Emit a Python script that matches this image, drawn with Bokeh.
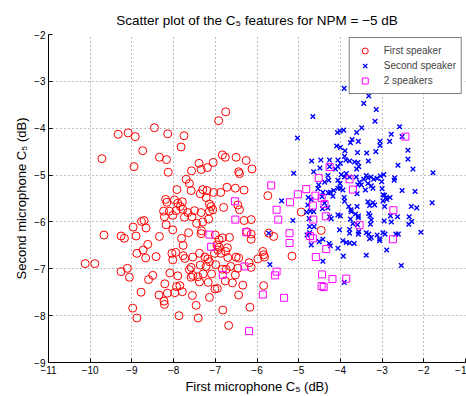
from bokeh.plotting import figure
from bokeh.models import Range1d, FixedTicker
from bokeh.embed import file_html
from bokeh.resources import INLINE

# ---------------- data ----------------
first_speaker_x = [
    -7.82, -8.74, -8.95, -8.34, -8.17, -8.13, -7.39, -7.34, -7.19, -7.05, -6.83, -6.76, -6.50, -6.26, -6.12, -6.44, -6.42, -7.57,
    -7.70, -7.62, -7.58, -7.92, -7.30, -7.20, -7.36, -7.22, -7.04, -6.87, -6.72, -6.52, -6.31, -7.14, -7.10, -6.80, -8.19, -8.16,
    -7.98, -7.90, -7.79, -7.84, -7.78, -7.94, -8.24, -8.10, -8.22, -8.02, -7.66, -7.50, -7.34, -7.56, -7.74, -7.06, -7.14, -7.16,
    -6.46, -6.42, -5.74, -6.31, -6.14,
    -8.18, -8.02, -8.71, -8.77, -8.66, -8.97, -8.90, -9.18, -9.26, -8.34, -7.45, -7.30, -7.33, -7.34, -7.64, -7.81, -7.77, -7.95,
    -7.77, -7.73, -8.04, -8.02, -7.54, -7.38, -7.25, -7.18, -7.14, -7.36, -7.00, -6.91, -6.83, -6.66, -6.96, -6.91, -6.94, -6.71,
    -6.75, -6.87, -6.70, -6.50, -7.02, -6.44, -5.98, -5.84, -5.86, -5.82, -6.19, -8.62, -8.73, -8.88, -8.67, -8.42, -9.11, -6.14,
    -6.14, -6.24,
    -7.58, -7.62, -7.54, -7.58, -7.42, -7.29, -7.22, -7.09, -6.99, -6.83, -6.74, -6.63, -6.46, -6.14, -9.06, -8.60, -8.50, -8.09,
    -7.90, -7.85, -7.93, -8.21, -8.15, -8.35, -8.23, -8.22, -7.97, -7.79, -7.55, -7.46, -7.38, -7.17, -7.01, -6.95, -7.14, -6.76,
    -6.59, -6.34, -6.52, -6.44, -6.17, -6.82, -8.98, -8.78, -7.87, -7.41, -5.84,
    -10.12, -9.89, -9.67, -9.26, -9.72, -9.33, -9.09, -8.92, -8.46, -8.14, -7.75, -6.75, -6.92, -8.88, -6.68, -4.94, -4.46, -5.16,
    -5.72, -5.60,
]
first_speaker_y = [
    -4.40, -4.48, -4.82, -4.62, -4.67, -4.94, -4.75, -4.88, -4.84, -4.73, -4.57, -4.62, -4.62, -4.69, -4.87, -4.93, -4.97, -4.91,
    -5.09, -5.18, -5.33, -5.31, -5.31, -5.33, -5.40, -5.48, -5.37, -5.37, -5.26, -5.28, -5.32, -5.62, -5.67, -5.69, -5.52, -5.58,
    -5.53, -5.60, -5.57, -5.67, -5.73, -5.76, -5.77, -5.77, -5.89, -5.86, -5.80, -5.76, -5.80, -5.89, -5.90, -5.74, -5.77, -5.94,
    -5.64, -5.74, -5.44, -5.97, -5.95,
    -6.06, -6.17, -5.97, -5.99, -6.13, -6.11, -6.30, -6.35, -6.30, -6.31, -6.03, -6.00, -6.19, -6.25, -6.23, -6.35, -6.50, -6.65,
    -6.72, -6.78, -6.67, -6.81, -6.75, -6.67, -6.75, -6.79, -6.85, -6.92, -6.28, -6.38, -6.34, -6.33, -6.49, -6.54, -6.60, -6.55,
    -6.63, -6.67, -6.76, -6.75, -6.67, -6.77, -6.79, -6.70, -6.63, -6.75, -6.87, -6.48, -6.60, -6.67, -6.77, -6.74, -6.99, -6.26,
    -6.37, -6.21,
    -6.97, -7.02, -7.14, -7.18, -7.17, -7.11, -6.95, -7.11, -6.91, -7.01, -7.01, -6.95, -6.99, -6.97, -7.18, -7.23, -7.14, -7.09,
    -7.15, -7.36, -7.38, -7.32, -7.52, -7.56, -7.69, -7.76, -7.51, -7.49, -7.57, -7.78, -7.28, -7.29, -7.43, -7.42, -7.61, -7.26,
    -7.30, -7.35, -7.13, -7.56, -7.82, -7.88, -7.84, -7.50, -8.00, -8.05, -7.36,
    -6.89, -6.89, -6.28, -7.06, -4.65, -4.13, -4.10, -4.18, -3.99, -4.12, -4.16, -3.65, -3.84, -8.05, -8.21, -5.79, -6.18, -6.73,
    -6.24, -6.31,
]

second_speaker_x = [
    -3.91, -3.32, -3.44, -3.14, -3.17, -4.66, -2.58, -3.49, -5.03, -4.07, -4.01, -3.92, -3.61, -3.72, -3.76, -3.57, -4.09, -4.00,
    -3.89, -3.05, -3.05, -3.15, -2.78, -2.82, -2.52, -2.38, -2.38, -2.26, -1.78, -2.62, -3.59, -3.37, -3.33, -3.58, -3.66, -3.56,
    -3.61, -3.78, -3.90, -3.87, -4.06, -4.00, -4.06, -4.12, -4.26, -4.26, -4.47, -4.49, -4.69, -4.64, -4.30, -4.28, -4.38, -4.52,
    -4.54, -4.06, -4.01, -3.98, -3.90, -3.86, -3.78, -3.62, -3.38, -3.34, -3.27, -3.20, -3.12, -3.04, -2.96, -3.54, -3.58, -3.44,
    -3.50, -3.34, -3.26, -3.22, -3.40, -3.60, -3.01, -3.00, -2.94, -2.81, -2.89, -2.71, -2.70, -2.52, -2.21, -1.80, -5.12, -5.41,
    -5.14, -4.77, -4.70, -4.78, -4.72, -4.64, -4.81, -4.74, -4.75, -4.63, -4.42, -4.29, -4.18, -4.24, -4.16, -4.06, -4.00, -3.94,
    -4.44, -4.38, -4.43, -4.30, -4.26, -4.22, -4.06, -4.00, -3.91, -3.90, -3.80, -3.75, -3.74, -3.60, -3.64, -3.57, -3.57, -3.59,
    -3.76, -3.70, -3.34, -3.30, -3.32, -3.29, -3.28, -3.26, -3.18, -3.22, -2.98, -2.98, -2.90, -2.94, -2.80, -2.78, -2.95, -2.63,
    -2.36, -2.30, -2.17, -2.35, -2.29, -2.07, -3.38, -3.32, -3.26, -3.30, -3.12, -3.06, -3.06, -2.98, -2.93, -2.67, -2.61, -4.02,
    -3.78, -3.78, -3.57, -3.56, -3.94, -3.86, -3.78, -3.67, -4.06, -4.27, -4.24, -4.42, -4.51, -4.70, -4.74, -4.80, -3.93, -4.42,
    -3.38, -2.89, -2.54, -3.91, -5.72, -5.69,
]
second_speaker_y = [
    -3.15, -3.31, -3.47, -3.60, -3.85, -3.75, -3.97, -3.99, -4.21, -4.09, -4.06, -4.04, -4.09, -4.24, -4.31, -4.28, -4.38, -4.41,
    -4.48, -4.28, -4.37, -4.50, -4.13, -4.28, -4.18, -4.47, -4.66, -4.87, -4.95, -4.79, -4.52, -4.53, -4.70, -4.73, -4.72, -4.82,
    -4.87, -4.70, -4.60, -4.68, -4.68, -4.75, -4.82, -4.87, -4.68, -4.82, -4.68, -4.85, -4.70, -4.93, -5.01, -5.11, -5.15, -5.21,
    -5.29, -5.11, -5.18, -4.99, -5.04, -4.97, -5.04, -5.04, -5.01, -5.06, -5.04, -5.09, -5.07, -5.02, -4.99, -5.15, -5.21, -5.09,
    -5.21, -5.18, -5.23, -5.28, -5.32, -5.40, -5.14, -5.29, -5.43, -5.48, -5.52, -5.11, -5.06, -5.33, -5.35, -5.59, -4.96, -5.55,
    -5.97, -5.48, -5.52, -5.64, -5.77, -5.78, -5.79, -6.10, -5.93, -6.10, -5.37, -5.38, -5.45, -5.37, -5.33, -5.28, -5.28, -5.32,
    -5.46, -5.60, -5.72, -5.70, -5.89, -5.93, -5.85, -5.87, -5.48, -5.56, -5.67, -5.74, -5.78, -5.67, -5.83, -5.87, -5.91, -6.06,
    -5.94, -6.04, -5.57, -5.65, -5.82, -5.87, -6.05, -5.96, -5.64, -5.59, -5.42, -5.55, -5.48, -5.67, -5.87, -6.00, -5.98, -5.89,
    -6.05, -5.67, -5.70, -5.89, -5.99, -6.22, -6.23, -6.26, -6.33, -6.36, -6.28, -6.36, -6.40, -6.23, -6.26, -6.26, -6.26, -6.17,
    -6.16, -6.24, -6.26, -6.21, -6.40, -6.44, -6.45, -6.46, -6.56, -6.46, -6.51, -6.37, -6.42, -6.49, -6.23, -6.28, -6.73, -6.84,
    -6.71, -6.60, -6.93, -7.29, -6.24, -6.91,
]

two_speakers_x = [
    -2.44, -4.26, -4.52, -3.78, -3.70, -4.82, -5.02, -4.60, -4.45, -5.21, -4.66, -4.38, -5.66, -5.53, -5.49, -4.35, -4.65, -2.73,
    -3.54, -5.22, -4.73, -4.66, -5.22, -2.74, -4.34, -4.59, -5.53, -5.57, -4.44, -4.19, -3.86, -4.45, -4.40,
    -6.53, -6.52, -7.14, -7.10, -6.26, -6.30, -6.82, -5.86, -6.19, -5.35,
]
two_speakers_y = [
    -4.18, -4.83, -5.06, -5.09, -5.31, -5.30, -5.41, -5.44, -5.49, -5.58, -5.65, -5.62, -5.22, -5.74, -5.95, -5.88, -5.95, -5.75,
    -6.07, -6.24, -6.30, -6.35, -6.45, -6.37, -6.58, -6.75, -7.06, -7.14, -7.12, -7.22, -7.21, -7.37, -7.39,
    -5.56, -5.95, -6.27, -6.53, -6.22, -6.95, -7.13, -7.55, -8.33, -7.62,
]

x_ticks = [-11, -10, -9, -8, -7, -6, -5, -4, -3, -2, -1]
x_tick_labels = ["\u221211", "\u221210", "\u22129", "\u22128", "\u22127", "\u22126", "\u22125", "\u22124", "\u22123", "\u22122", "\u22121"]
y_ticks = [-9, -8, -7, -6, -5, -4, -3, -2]
y_tick_labels = ["\u22129", "\u22128", "\u22127", "\u22126", "\u22125", "\u22124", "\u22123", "\u22122"]

series_names = ["First speaker", "Second speaker", "2 speakers"]
title_text = "Scatter plot of the C\u2085 features for NPM = \u22125 dB"
x_label = "First microphone C\u2085 (dB)"
y_label = "Second microphone C\u2085 (dB)"

# ---------------- figure ----------------
FONT = "Liberation Sans"

p = figure(width=466, height=396, output_backend="svg", toolbar_location=None,
           x_range=Range1d(-11, -1), y_range=Range1d(-9, -2),
           min_border_left=48, min_border_right=1, min_border_top=34, min_border_bottom=34)
p.background_fill_color = "white"
p.border_fill_color = "white"
p.outline_line_color = None

p.title.text = title_text
p.title.align = "center"
p.title.text_font = FONT
p.title.text_font_size = "13.5px"
p.title.text_font_style = "normal"
p.title.text_color = "black"
p.title.standoff = 13

for ax, ticks, labels, lab in ((p.xaxis[0], x_ticks, x_tick_labels, x_label),
                               (p.yaxis[0], y_ticks, y_tick_labels, y_label)):
    ax.ticker = FixedTicker(ticks=ticks)
    ax.major_label_overrides = dict(zip(ticks, labels))
    ax.axis_label = lab
    ax.axis_label_text_font = FONT
    ax.axis_label_text_font_size = "13px"
    ax.axis_label_text_font_style = "normal"
    ax.axis_label_text_color = "black"
    ax.major_label_text_font = FONT
    ax.major_label_text_font_size = "10px"
    ax.major_label_text_color = "black"
    ax.axis_line_color = "black"
    ax.axis_line_width = 1
    ax.major_tick_in = 4
    ax.major_tick_out = 0
    ax.major_tick_line_color = "black"
    ax.minor_tick_line_color = None
    ax.axis_label_standoff = 2
    ax.major_label_standoff = 3

p.xgrid.ticker = FixedTicker(ticks=x_ticks)
p.ygrid.ticker = FixedTicker(ticks=y_ticks)
for g in (p.xgrid[0], p.ygrid[0]):
    g.grid_line_color = "#808080"
    g.grid_line_dash = "1 3"
    g.grid_line_width = 1
    g.grid_line_alpha = 1.0

p.scatter(first_speaker_x, first_speaker_y, marker="circle", size=8, fill_color=None,
          line_color="#ff0000", line_width=1, legend_label=series_names[0])
p.scatter(second_speaker_x, second_speaker_y, marker="x", size=6.5,
          line_color="#0000ff", line_width=1.4, legend_label=series_names[1])
p.scatter(two_speakers_x, two_speakers_y, marker="square", size=7, fill_color=None,
          line_color="#ff00ff", line_width=1, legend_label=series_names[2])

lg = p.legend[0]
lg.location = "top_right"
lg.margin = 3
lg.padding = 5
lg.spacing = 0
lg.label_height = 15
lg.glyph_height = 15
lg.glyph_width = 20
lg.label_standoff = 9
lg.label_text_font = FONT
lg.label_text_font_size = "10px"
lg.border_line_color = "black"
lg.border_line_width = 1.5
lg.background_fill_color = "white"
lg.background_fill_alpha = 1.0

open("out.html", "w").write(file_html(p, INLINE))
